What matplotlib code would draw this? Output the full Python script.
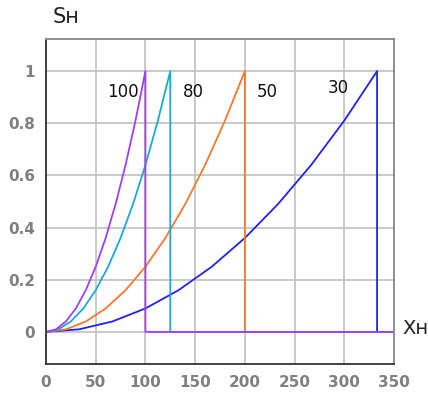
import matplotlib.pyplot as plt

# curves S(x), one per label
x100 = [0, 10, 20, 30, 40, 50, 60, 70, 80, 90, 100]
y100 = [0, 0.01, 0.04, 0.09, 0.16, 0.25, 0.36, 0.49, 0.64, 0.81, 1.0]

x80 = [0, 12.5, 25, 37.5, 50, 62.5, 75, 87.5, 100, 112.5, 125]
y80 = [0, 0.01, 0.04, 0.09, 0.16, 0.25, 0.36, 0.49, 0.64, 0.81, 1.0]

x50 = [0, 20, 40, 60, 80, 100, 120, 140, 160, 180, 200]
y50 = [0, 0.01, 0.04, 0.09, 0.16, 0.25, 0.36, 0.49, 0.64, 0.81, 1.0]

x30 = [0, 33.3, 66.7, 100, 133.3, 166.7, 200, 233.3, 266.7, 300, 333]
y30 = [0, 0.01, 0.04, 0.09, 0.16, 0.25, 0.36, 0.49, 0.64, 0.81, 1.0]

labels = ['100', '80', '50', '30']
label_x = [77, 148, 223, 294]
label_y = [0.92, 0.92, 0.92, 0.935]

xticks = [0, 50, 100, 150, 200, 250, 300, 350]
yticks = [0, 0.2, 0.4, 0.6, 0.8, 1]

fig = plt.figure(figsize=(4.28, 3.96), dpi=100)
ax = fig.add_axes([0.1075, 0.0808, 0.813, 0.8207])

# draw blue first so purple is on top
series = [(x30, y30, '#2222ee'), (x50, y50, '#f57a2a'),
          (x80, y80, '#1aa8dd'), (x100, y100, '#a040f0')]
for xs, ys, c in series:
    xx = xs + [xs[-1], xs[-1], 350]
    yy = ys + [ys[-1], 0, 0]
    ax.plot(xx, yy, color=c, lw=1.3)

for t, lx, ly in zip(labels, label_x, label_y):
    ax.text(lx, ly, t, fontsize=12, ha='center', va='center', color='#111111')

ax.set_xlim(0, 350)
ax.set_ylim(-0.123, 1.123)
ax.set_xticks(xticks)
ax.set_yticks(yticks)
ax.set_yticklabels(['0', '0.2', '0.4', '0.6', '0.8', '1'])
ax.grid(True, color='#c0c0c0', lw=1.2)
ax.tick_params(length=0, labelsize=11, labelcolor='#808080', pad=8)
for lab in ax.get_xticklabels() + ax.get_yticklabels():
    lab.set_fontweight('bold')
ax.spines['left'].set_color('#333333')
ax.spines['bottom'].set_color('#333333')
ax.spines['top'].set_color('#888888')
ax.spines['right'].set_color('#888888')
for s in ax.spines.values():
    s.set_linewidth(1.3)

fig.text(66 / 428, 1 - 17 / 396, 'Sн', fontsize=15, ha='center', va='center', color='#222222')
fig.text(415 / 428, 1 - 329 / 396, 'Xн', fontsize=14, ha='center', va='center', color='#222222')

fig.savefig('out.png', dpi=100)
